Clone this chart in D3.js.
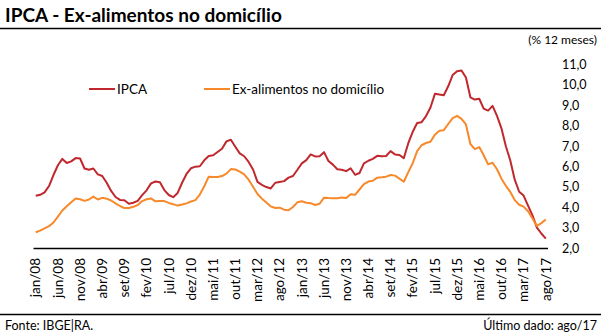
<!DOCTYPE html>
<html lang="pt-BR">
<head>
<meta charset="utf-8">
<script src="https://cdn.jsdelivr.net/npm/d3@7"></script>
<style>
  html, body { margin: 0; padding: 0; background: #fff; }
  svg { display: block; font-family: Lato, "Noto Sans", sans-serif; }
</style>
</head>
<body>
<svg id="chart" width="601" height="335"></svg>
<script>
// Monthly categories jan/08 .. ago/17
const monthNames = ["jan","fev","mar","abr","mai","jun","jul","ago","set","out","nov","dez"];
const years = ["08","09","10","11","12","13","14","15","16","17"];
const lastMonthOfFinalYear = 8;

// IPCA, accumulated in 12 months (%)
const ipca = [
  4.56, 4.61, 4.73, 5.04, 5.58, 6.06, 6.37, 6.17, 6.25, 6.41, 6.39, 5.90,
  5.84, 5.90, 5.61, 5.53, 5.20, 4.80, 4.50, 4.36, 4.34, 4.17, 4.22, 4.31,
  4.59, 4.83, 5.17, 5.26, 5.22, 4.84, 4.60, 4.49, 4.70, 5.20, 5.63, 5.91,
  5.99, 6.01, 6.30, 6.51, 6.55, 6.71, 6.87, 7.23, 7.31, 6.97, 6.64, 6.50,
  6.22, 5.85, 5.24, 5.10, 4.99, 4.92, 5.20, 5.24, 5.28, 5.45, 5.53, 5.84,
  6.15, 6.31, 6.59, 6.49, 6.50, 6.70, 6.27, 6.09, 5.86, 5.84, 5.77, 5.91,
  5.59, 5.68, 6.15, 6.28, 6.37, 6.52, 6.50, 6.51, 6.75, 6.59, 6.56, 6.41,
  7.14, 7.70, 8.13, 8.17, 8.47, 8.89, 9.56, 9.53, 9.49, 9.93, 10.48, 10.67,
  10.71, 10.36, 9.39, 9.28, 9.32, 8.84, 8.74, 8.97, 8.48, 7.87, 6.99, 6.29,
  5.35, 4.76, 4.57, 4.08, 3.60, 3.00, 2.71, 2.46
];

// Ex-alimentos no domicílio, accumulated in 12 months (%)
const exAlimentos = [
  2.77, 2.85, 2.96, 3.07, 3.25, 3.54, 3.84, 4.05, 4.24, 4.43, 4.39, 4.31,
  4.38, 4.52, 4.38, 4.46, 4.42, 4.33, 4.19, 4.06, 3.96, 3.96, 4.02, 4.11,
  4.30, 4.39, 4.43, 4.29, 4.30, 4.30, 4.21, 4.15, 4.08, 4.13, 4.19, 4.28,
  4.35, 4.62, 5.03, 5.50, 5.48, 5.48, 5.53, 5.65, 5.87, 5.85, 5.75, 5.61,
  5.35, 5.00, 4.65, 4.42, 4.23, 4.04, 3.96, 3.98, 3.88, 3.85, 4.01, 4.24,
  4.29, 4.22, 4.20, 4.11, 4.17, 4.47, 4.45, 4.44, 4.44, 4.48, 4.45, 4.64,
  4.61, 4.87, 5.13, 5.26, 5.30, 5.45, 5.47, 5.50, 5.58, 5.55, 5.40, 5.25,
  5.72, 6.16, 6.75, 7.04, 7.15, 7.21, 7.56, 7.75, 7.78, 8.08, 8.37, 8.48,
  8.33, 8.06, 7.10, 6.85, 6.95, 6.55, 6.10, 6.18, 5.86, 5.40, 5.05, 4.75,
  4.35, 4.12, 4.03, 3.80, 3.45, 3.08, 3.22, 3.40
];

const yTicks = [2, 3, 4, 5, 6, 7, 8, 9, 10, 11];
const labelStep = 5;

const categories = [];
years.forEach((yr, yi) => {
  monthNames.forEach((m, mi) => {
    if (yi === years.length - 1 && mi >= lastMonthOfFinalYear) return;
    categories.push(m + "/" + yr);
  });
});

const series = [
  { name: "IPCA", values: ipca, color: "#C0282E" },
  { name: "Ex-alimentos no domicílio", values: exAlimentos, color: "#F7892B" }
];

const ptBR = d3.formatLocale({ decimal: ",", thousands: ".", grouping: [3], currency: ["R$", ""] });
const fmt = ptBR.format(".1f");
const FONT = "Lato, 'Noto Sans', sans-serif";

const svg = d3.select("#chart");

// Title and rules
svg.append("text")
  .attr("x", 5).attr("y", 22)
  .attr("font-size", 19).attr("font-weight", "bold").attr("fill", "#000")
  .text("IPCA - Ex-alimentos no domicílio");
svg.append("line").attr("x1", 0).attr("x2", 601).attr("y1", 28.5).attr("y2", 28.5)
  .attr("stroke", "#000").attr("stroke-width", 1.5);
svg.append("line").attr("x1", 0).attr("x2", 601).attr("y1", 314.5).attr("y2", 314.5)
  .attr("stroke", "#000").attr("stroke-width", 1.5);

svg.append("text")
  .attr("x", 597).attr("y", 44).attr("text-anchor", "end")
  .attr("font-size", 12).attr("fill", "#000")
  .text("(% 12 meses)");

// Scales
const x = d3.scaleBand().domain(categories).range([33.5, 548]).padding(0);
const y = d3.scaleLinear().domain([2, 11]).range([248, 64.5]);
const cx = c => x(c) + x.bandwidth() / 2;

// Right-hand value axis (labels only)
const yAxis = d3.axisRight(y).tickValues(yTicks).tickFormat(fmt).tickSize(0).tickPadding(0);
const gy = svg.append("g").attr("transform", "translate(562,0)").call(yAxis);
gy.select(".domain").remove();
gy.selectAll("text").attr("font-size", 12.5).attr("fill", "#000").attr("font-family", FONT);

// Category axis
const xAxis = d3.axisBottom(x)
  .tickValues(categories.filter((d, i) => i % labelStep === 0))
  .tickSize(0).tickPadding(0);
const gx = svg.append("g").attr("transform", "translate(0,248)").call(xAxis);
gx.select(".domain").attr("d", `M${x.range()[0]},0.5H${x.range()[1]}`).attr("stroke", "#000").attr("stroke-width", 1.3);
gx.selectAll(".tick text")
  .attr("font-size", 13.5).attr("fill", "#000").attr("font-family", FONT)
  .attr("text-anchor", "end")
  .attr("transform", "translate(0,10) rotate(-90)")
  .attr("x", 0).attr("y", 0).attr("dy", "0.35em");

// Lines
const line = d3.line()
  .x((d, i) => cx(categories[i]))
  .y(d => y(d));

svg.append("g").selectAll("path")
  .data(series)
  .join("path")
  .attr("fill", "none")
  .attr("stroke", d => d.color)
  .attr("stroke-width", 2)
  .attr("stroke-linejoin", "round")
  .attr("d", d => line(d.values));

// Legend
const legendPos = [{ x: 89, y: 89 }, { x: 204, y: 89 }];
const legend = svg.append("g").selectAll("g").data(series).join("g")
  .attr("transform", (d, i) => `translate(${legendPos[i].x},${legendPos[i].y})`);
legend.append("line").attr("x1", 0).attr("x2", 26).attr("y1", 0).attr("y2", 0)
  .attr("stroke", d => d.color).attr("stroke-width", 2);
legend.append("text").attr("x", 28).attr("y", 0).attr("dy", "0.35em")
  .attr("font-size", 13.5).attr("fill", "#000").text(d => d.name);

// Footer
svg.append("text").attr("x", 5).attr("y", 330).attr("font-size", 12.5).attr("fill", "#000")
  .text("Fonte: IBGE|RA.");
svg.append("text").attr("x", 597).attr("y", 330).attr("text-anchor", "end")
  .attr("font-size", 12.5).attr("fill", "#000")
  .text("Último dado: ago/17");
</script>
</body>
</html>
